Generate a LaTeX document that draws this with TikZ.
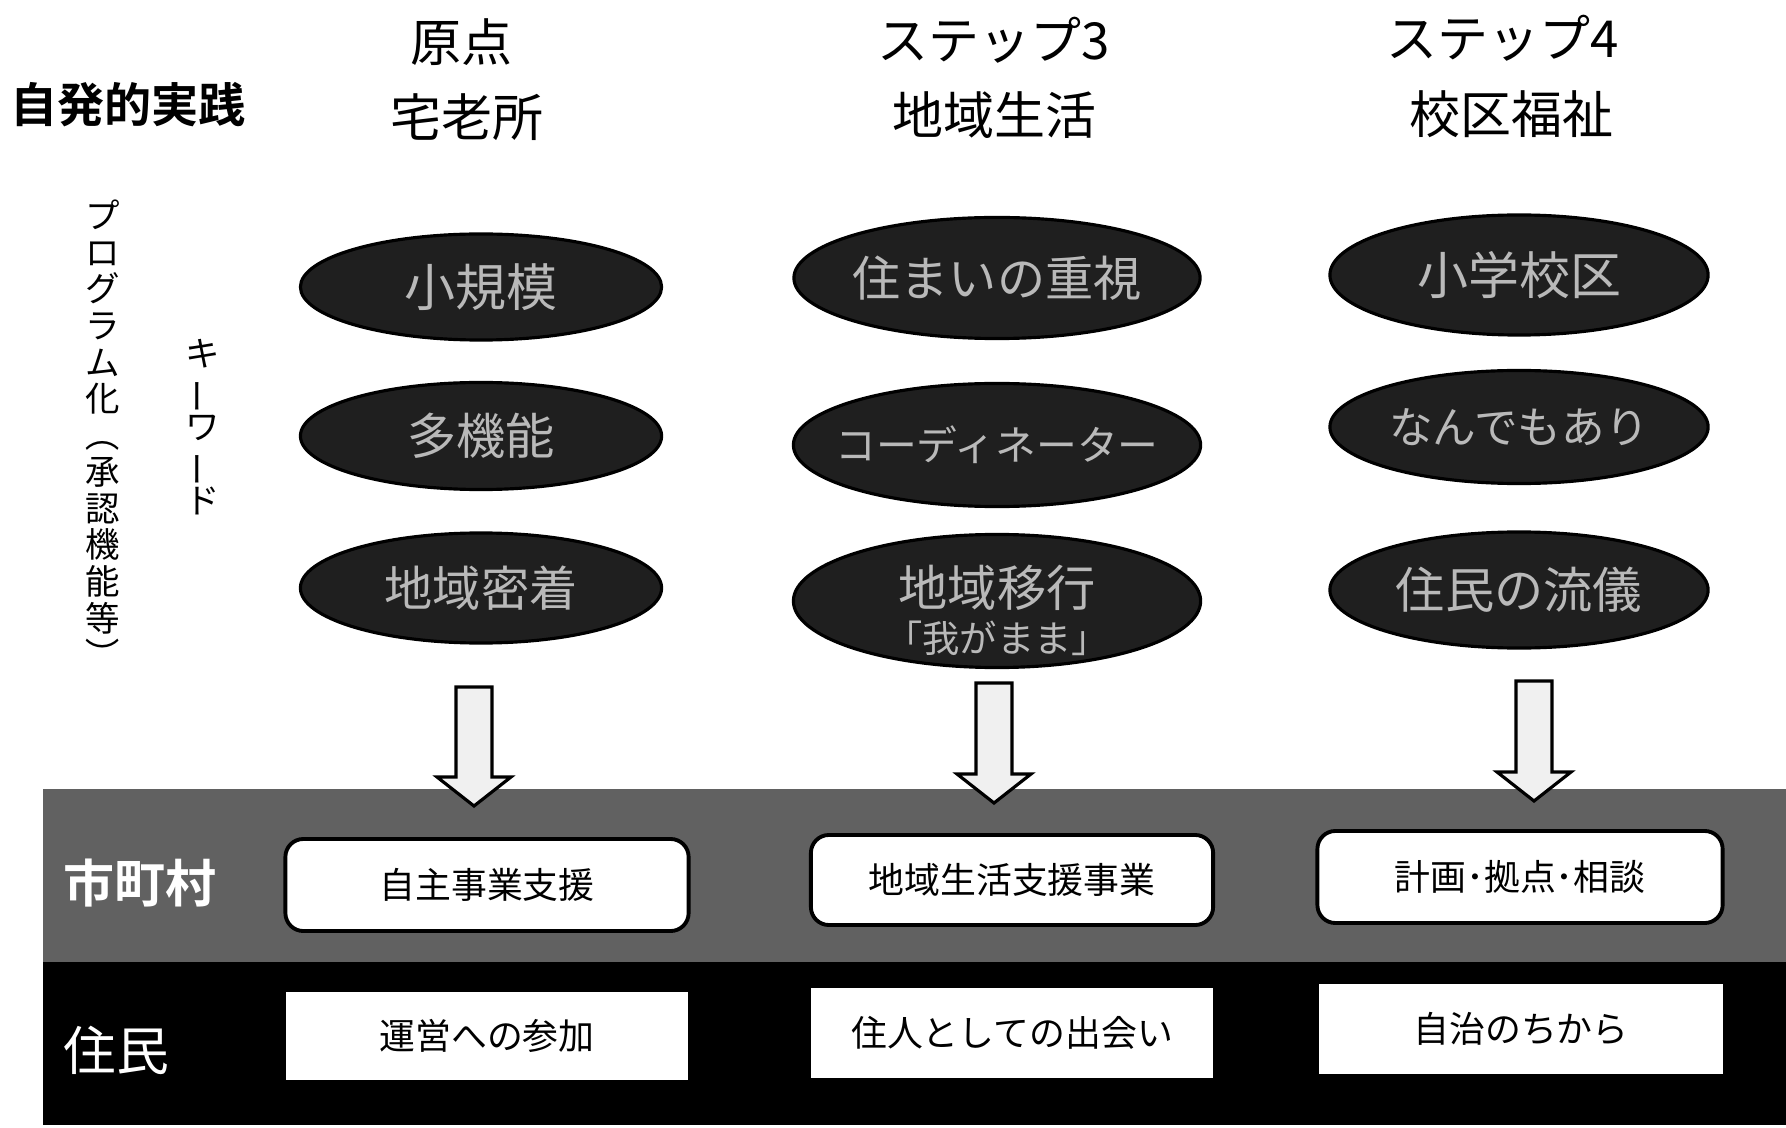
\documentclass[tikz,border=0pt]{standalone}
\usepackage{fontspec}
\setmainfont{Noto Sans CJK JP}
\newfontfamily\jpbold{Noto Sans CJK JP Bold}
\usetikzlibrary{shapes.geometric,calc}
\newcommand{\fs}[1]{\fontsize{#1}{#1}\selectfont}
\newcommand{\zb}[1]{\makebox[0pt]{#1}}
\begin{document}
\begin{tikzpicture}[x=0.01cm,y=-0.01cm,
  hdr/.style={inner sep=0pt,font=\fs{14.5pt}},
  kw/.style={ellipse,draw=black,line width=0.9pt,fill=black!88,text=gray!55,inner sep=0pt},
  muni/.style={draw=black,line width=1.1pt,fill=white,rounded corners=0.18cm,font=\fs{10.2pt},inner sep=0pt},
  res/.style={fill=white,font=\fs{10.2pt},inner sep=0pt},
  barrow/.style={draw=black,line width=0.9pt,fill=gray!12,line join=miter},
  vert/.style={align=center,inner sep=0pt,font=\fontsize{9.8pt}{10.4pt}\selectfont}]
\useasboundingbox (0,0) rectangle (1786,1128);
\fill[white] (0,0) rectangle (1786,1128);

% headers
\node[inner sep=0pt,font=\jpbold\fs{13.4pt}] (jh) at (128,105) {自発的実践};
\node[hdr] (h1a) at (461,42) {原点};
\node[hdr] (h1b) at (467,117) {宅老所};
\node[hdr] (h2a) at (994,40) {ステップ3};
\node[hdr] (h2b) at (994,115) {地域生活};
\node[hdr] (h3a) at (1503,38) {ステップ4};
\node[hdr] (h3b) at (1511,114) {校区福祉};

% vertical labels
\node[vert] (prog) at (103,436) {プ\\ロ\\グ\\ラ\\ム\\化\\\rotatebox[origin=c]{-90}{（}\\承\\認\\機\\能\\等\\\rotatebox[origin=c]{-90}{）}};
\node[vert] (kwd) at (203,427) {キ\\\rotatebox[origin=c]{90}{ー}\\ワ\\\rotatebox[origin=c]{90}{ー}\\ド};

% keyword ellipses
\node[kw,minimum width=3.61cm,minimum height=1.06cm,font=\fs{14.5pt}] (e11) at (481,287) {\zb{小規模}};
\node[kw,minimum width=3.61cm,minimum height=1.07cm,font=\fs{14pt}] (e12) at (481,436) {\zb{多機能}};
\node[kw,minimum width=3.61cm,minimum height=1.10cm,font=\fs{13.7pt}] (e13) at (481,588) {\zb{地域密着}};
\node[kw,minimum width=4.06cm,minimum height=1.21cm,font=\fs{13.7pt}] (e21) at (997,278) {\zb{住まいの重視}};
\node[kw,minimum width=4.07cm,minimum height=1.23cm,font=\fs{11.6pt}] (e22) at (997,445) {\zb{コーディネーター}};
\node[kw,minimum width=4.07cm,minimum height=1.33cm] (e23) at (997,601) {};
\node[inner sep=0pt,text=gray!55,font=\fs{14pt}] (e23a) at (997,588) {地域移行};
\node[inner sep=0pt,text=gray!55,font=\fs{10.6pt}] (e23b) at (997,638) {「我がまま」};
\node[kw,minimum width=3.78cm,minimum height=1.20cm,font=\fs{14.5pt}] (e31) at (1519,275) {\zb{小学校区}};
\node[kw,minimum width=3.78cm,minimum height=1.13cm,font=\fs{12.4pt}] (e32) at (1519,427) {\zb{なんでもあり}};
\node[kw,minimum width=3.78cm,minimum height=1.16cm,font=\fs{14pt}] (e33) at (1519,590) {\zb{住民の流儀}};

% bands
\fill[black!62] (43,789) rectangle (1786,962);
\fill[black] (43,962) rectangle (1786,1125);
\node[inner sep=0pt,text=white,font=\jpbold\fs{14.5pt}] (lm) at (140,883) {市町村};
\node[inner sep=0pt,text=white,font=\fs{15pt}] (lr) at (116,1050) {住民};

% municipality boxes
\node[muni,minimum width=4.03cm,minimum height=0.92cm] (m1) at (487,885) {自主事業支援};
\node[muni,minimum width=4.02cm,minimum height=0.90cm] (m2) at (1012,880) {地域生活支援事業};
\node[muni,minimum width=4.05cm,minimum height=0.92cm] (m3) at (1520,877) {計画･拠点･相談};

% resident boxes
\node[res,minimum width=4.01cm,minimum height=0.87cm] (r1) at (487,1036) {運営への参加};
\node[res,minimum width=4.01cm,minimum height=0.89cm] (r2) at (1012,1033) {住人としての出会い};
\node[res,minimum width=4.04cm,minimum height=0.89cm] (r3) at (1521,1029) {自治のちから};

% block arrows
\coordinate (a1s) at (474,687); \coordinate (a1t) at (474,806);
\coordinate (a2s) at (994,683); \coordinate (a2t) at (994,803);
\coordinate (a3s) at (1534,681); \coordinate (a3t) at (1534,801);
\foreach \i in {1,2,3}{
  \draw[barrow] ($(a\i s)+(-18,0)$) -- ($(a\i s)+(18,0)$) -- ($(a\i t)+(18,-29)$) -- ($(a\i t)+(37,-29)$) -- (a\i t) -- ($(a\i t)+(-37,-29)$) -- ($(a\i t)+(-18,-29)$) -- cycle;
}
\end{tikzpicture}
\end{document}
